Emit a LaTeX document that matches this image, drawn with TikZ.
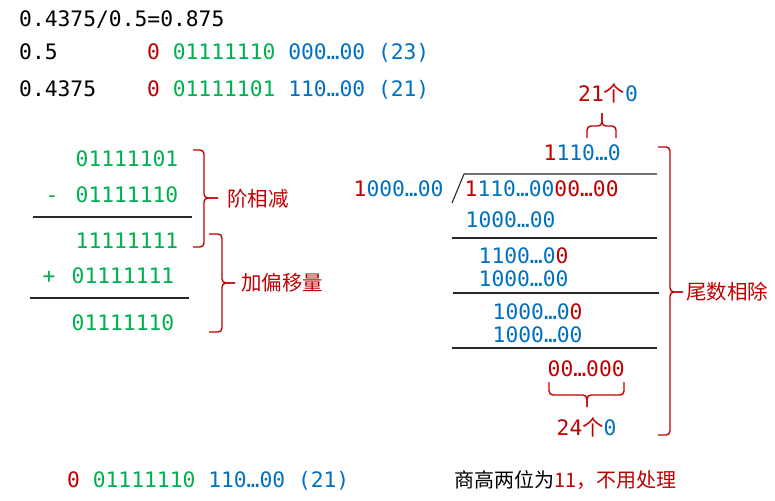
\documentclass[tikz,border=0pt]{standalone}
\usepackage{fontspec}
\setmonofont{DejaVu Sans Mono}
\newfontfamily\cjk{Noto Sans CJK SC}
\usepackage{xcolor}
\usetikzlibrary{positioning}
\definecolor{bitred}{RGB}{192, 0, 0}
\definecolor{bitgreen}{RGB}{0, 176, 80}
\definecolor{bitblue}{RGB}{0, 112, 192}
\definecolor{rulegray}{RGB}{40, 40, 40}
\newcommand{\cRed}[1]{\textcolor{bitred}{#1}}
\newcommand{\cGrn}[1]{\textcolor{bitgreen}{#1}}
\newcommand{\cBlu}[1]{\textcolor{bitblue}{#1}}
\tikzstyle{bits} = [inner sep=0pt, anchor=base west, font=\ttfamily\fontsize{21.3}{25}\selectfont]
\tikzstyle{tag} = [inner sep=0pt, anchor=west, text=bitred, font=\cjk\fontsize{20.5}{24}\selectfont]
\tikzstyle{brace} = [draw=bitred, line width=1.4pt, rounded corners=4pt]
\tikzstyle{rule} = [draw=rulegray, line width=1.1pt]

\begin{document}
\begin{tikzpicture}[x=1pt, y=-1pt]
\useasboundingbox (0,0) rectangle (775,500);

% Header: the two operands
\node[bits] (eq) at (19,27) {0.4375/0.5=0.875};
\node[bits] (valA) at (19,60) {0.5};
\node[bits] (fmtA) at (147,60) {\cRed{0} \cGrn{01111110} \cBlu{000…00 (23)}};
\node[bits] (valB) at (19,96) {0.4375};
\node[bits] (fmtB) at (147,96) {\cRed{0} \cGrn{01111101} \cBlu{110…00 (21)}};

% Exponent: subtract, then add bias
\node[bits, text=bitgreen] (expA) at (75.5,166) {01111101};
\node[bits, anchor=base, text=bitgreen] (minus) at (52,202) {-};
\node[bits, text=bitgreen] (expB) at (75.5,202) {01111110};
\draw[rule] (33,217) -- (192,217);
\node[bits, text=bitgreen] (expD) at (75.5,248) {11111111};
\node[bits, anchor=base, text=bitgreen] (plus) at (49,283) {+};
\node[bits, text=bitgreen] (bias) at (71.5,283) {01111111};
\draw[rule] (30,298) -- (189,298);
\node[bits, text=bitgreen] (expR) at (71.5,330) {01111110};

% Braces on the left
\draw[brace] (193,150) -- (204,150) -- (204,198) -- (218,198);
\draw[brace] (193,247) -- (204,247) -- (204,198) -- (218,198);
\node[tag] (subLbl) at (227,199) {阶相减};
\draw[brace] (209,234) -- (222,234) -- (222,283) -- (235,283);
\draw[brace] (209,332) -- (222,332) -- (222,283) -- (235,283);
\node[tag] (biasLbl) at (241,283) {加偏移量};

% Mantissa: long division
\node[bits] (cnt21) at (578,102) {\cRed{21{\cjk 个}}\cBlu{0}};
\draw[brace] (587,138) -- (587,126) -- (602,126) -- (602,113);
\draw[brace] (616,138) -- (616,126) -- (602,126) -- (602,113);
\node[bits] (quot) at (543.5,160) {\cRed{1}\cBlu{110…0}};
\node[bits] (divisor) at (353.5,196) {\cRed{1}\cBlu{000…00}};
\draw[rule] (452,203) -- (464,174) -- (657,174);
\node[bits] (dividend) at (464.5,196) {\cRed{1}\cBlu{110…00}\cRed{00…00}};
\node[bits, text=bitblue] (subA) at (465.5,227) {1000…00};
\draw[rule] (452,238) -- (657,238);
\node[bits] (remA) at (478.5,263) {\cBlu{1100…0}\cRed{0}};
\node[bits, text=bitblue] (subB) at (478.5,286) {1000…00};
\draw[rule] (453,293) -- (659,293);
\node[bits] (remB) at (492.5,319) {\cBlu{1000…0}\cRed{0}};
\node[bits, text=bitblue] (subC) at (492.5,342) {1000…00};
\draw[rule] (452,348) -- (657,348);
\node[bits, text=bitred] (remC) at (547.5,376) {00…000};
\draw[brace] (549,382) -- (549,395) -- (587,395) -- (587,407);
\draw[brace] (624,382) -- (624,395) -- (587,395) -- (587,407);
\node[bits] (cnt24) at (556.5,435) {\cRed{24{\cjk 个}}\cBlu{0}};

% Brace on the right
\draw[brace] (658,147) -- (670,147) -- (670,292) -- (683,292);
\draw[brace] (658,435) -- (670,435) -- (670,292) -- (683,292);
\node[tag] (divLbl) at (686,292) {尾数相除};

% Result
\node[bits] (result) at (67,487) {\cRed{0} \cGrn{01111110} \cBlu{110…00 (21)}};
\node[bits, font=\cjk\fontsize{20}{24}\selectfont] (note) at (454,487) {商高两位为\cRed{11，不用处理}};

\end{tikzpicture}
\end{document}
